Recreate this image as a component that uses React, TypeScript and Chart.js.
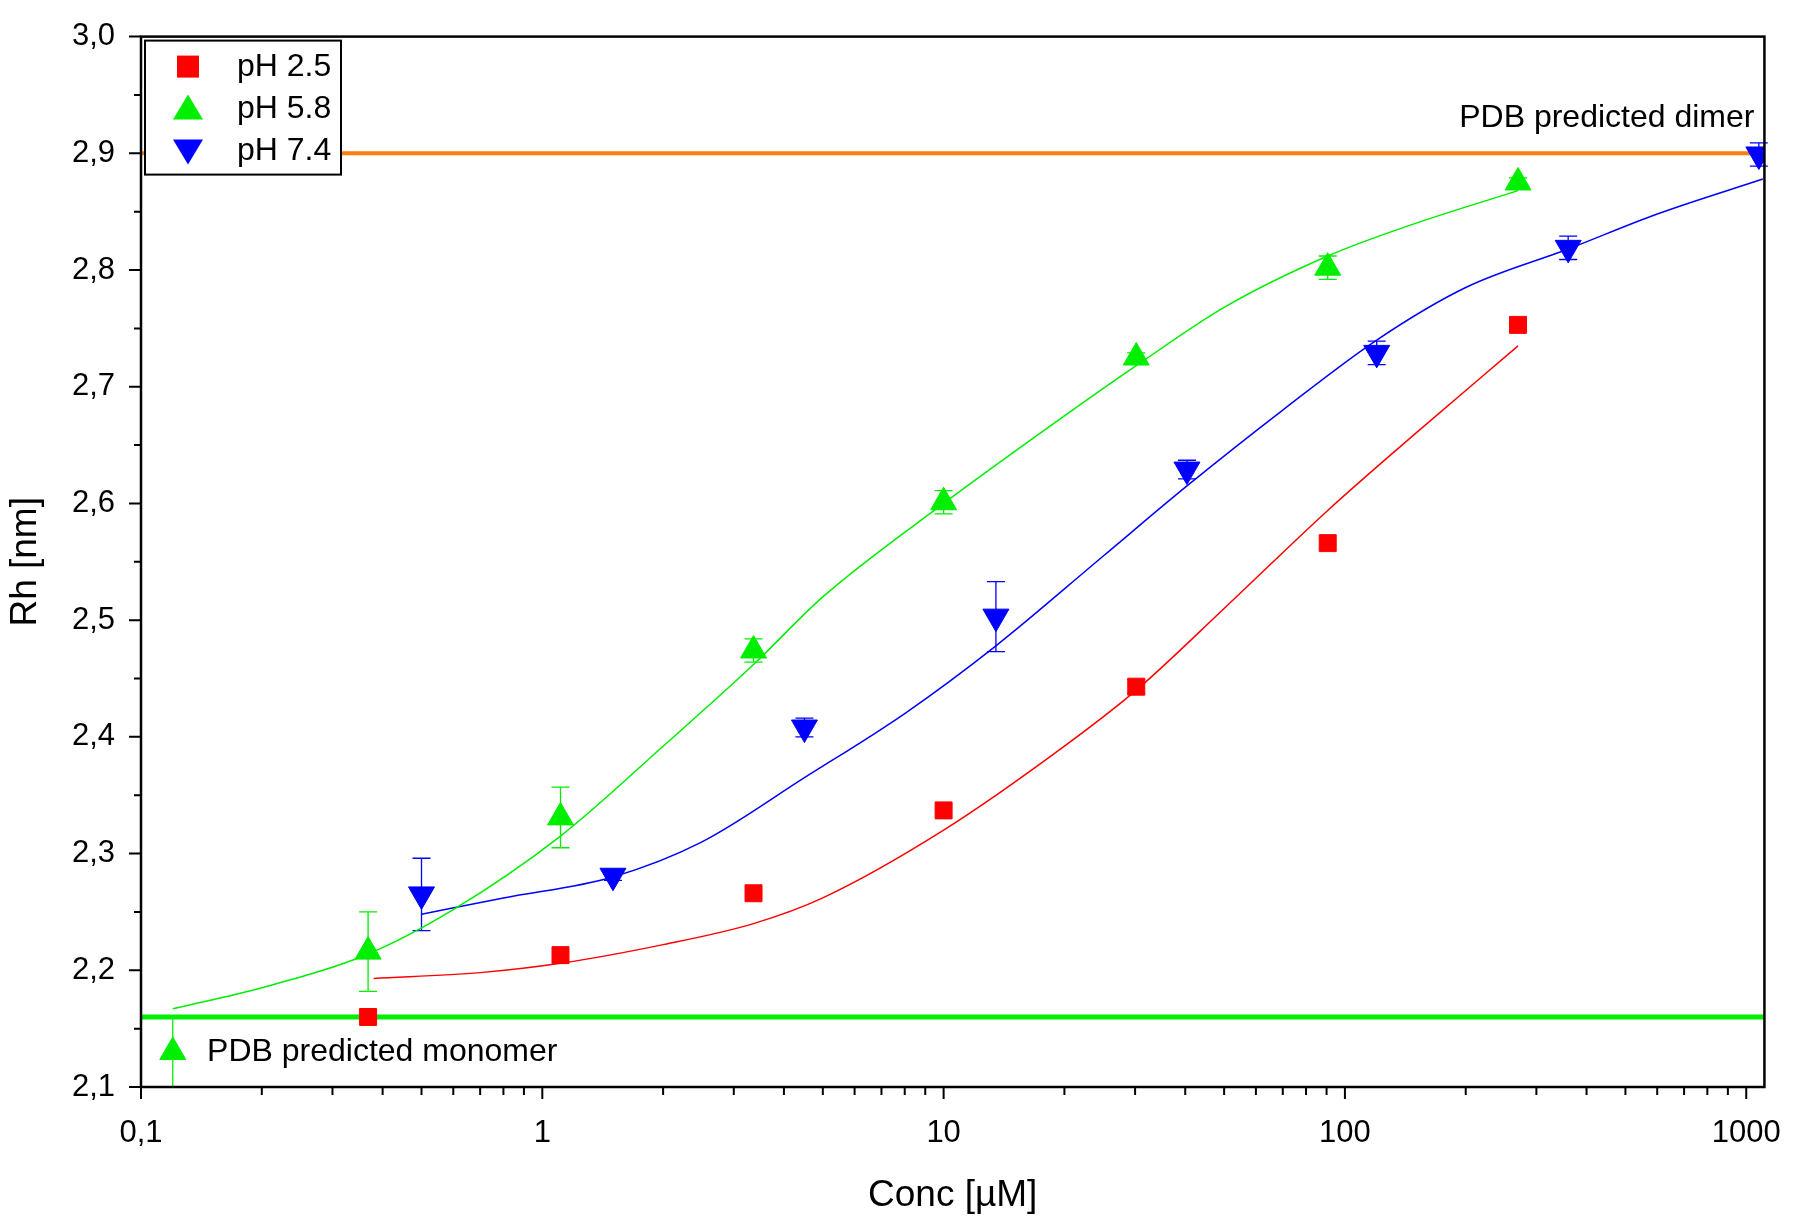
import React, { useEffect, useRef } from "react";
import { Chart, registerables } from "chart.js";

Chart.register(...registerables);

// measured points (Conc µM, Rh nm) with error bars (+/-)
const ph25X = [0.368, 1.11, 3.36, 10, 30.2, 90.6, 270];
const ph25Y = [2.16, 2.213, 2.266, 2.337, 2.443, 2.566, 2.753];
const ph25Err = [0, 0, 0, 0, 0.006, 0, 0];

const ph58X = [0.12, 0.368, 1.11, 3.36, 10, 30.2, 90.6, 270];
const ph58Y = [2.13, 2.216, 2.331, 2.474, 2.601, 2.725, 2.802, 2.875];
const ph58Err = [0.03, 0.034, 0.026, 0.01, 0.01, 0.004, 0.01, 0.004];

const ph74X = [0.5, 1.5, 4.5, 13.5, 40.4, 120, 360, 1075];
const ph74Y = [2.265, 2.281, 2.408, 2.503, 2.629, 2.729, 2.819, 2.899];
const ph74Err = [0.031, 0.004, 0.008, 0.03, 0.008, 0.01, 0.01, 0.01];

// fitted curves
const fit25X = [0.38, 0.7, 1.11, 2, 3.36, 5, 10, 20, 30.2, 50, 90.6, 150, 270];
const fit25Y = [2.193, 2.198, 2.206, 2.222, 2.24, 2.262, 2.32, 2.392, 2.44, 2.51, 2.594, 2.66, 2.735];

const fit58X = [0.12, 0.2, 0.368, 0.6, 1.11, 2, 3.36, 5, 10, 20, 30.2, 50, 90.6, 150, 270];
const fit58Y = [2.167, 2.185, 2.214, 2.252, 2.315, 2.392, 2.462, 2.52, 2.6, 2.675, 2.718, 2.768, 2.812, 2.84, 2.868];

const fit74X = [0.5, 0.8, 1.5, 2.5, 4.5, 8, 13.5, 25, 40.4, 70, 120, 200, 360, 600, 1100];
const fit74Y = [2.248, 2.262, 2.28, 2.31, 2.365, 2.42, 2.478, 2.555, 2.615, 2.68, 2.74, 2.785, 2.818, 2.848, 2.878];

const dimerRh = 2.9;
const monomerRh = 2.16;
const xMin = 0.1;
const xMax = 1110;
const xDecades = [0.1, 1, 10, 100, 1000];

const RED = "#ff0000";
const GREEN = "#00ee00";
const BLUE = "#0000ff";
const FONT = "'Liberation Sans', Arial, sans-serif";

const pts = (xs: number[], ys: number[]) => xs.map((x, i) => ({ x, y: ys[i] }));

const errorBars = [
  { xs: ph25X, ys: ph25Y, err: ph25Err, color: RED },
  { xs: ph58X, ys: ph58Y, err: ph58Err, color: GREEN },
  { xs: ph74X, ys: ph74Y, err: ph74Err, color: BLUE },
];

const framePlugin = {
  id: "frame",
  beforeDatasetsDraw(chart: any) {
    const { ctx, scales } = chart;
    const sx = scales.x;
    const sy = scales.y;
    ctx.save();
    ctx.lineWidth = 1.3;
    errorBars.forEach((s) => {
      ctx.strokeStyle = s.color;
      s.xs.forEach((x, i) => {
        if (!s.err[i]) return;
        const px = sx.getPixelForValue(x);
        const y0 = sy.getPixelForValue(s.ys[i] - s.err[i]);
        const y1 = sy.getPixelForValue(s.ys[i] + s.err[i]);
        ctx.beginPath();
        ctx.moveTo(px, y0);
        ctx.lineTo(px, y1);
        ctx.moveTo(px - 9, y0);
        ctx.lineTo(px + 9, y0);
        ctx.moveTo(px - 9, y1);
        ctx.lineTo(px + 9, y1);
        ctx.stroke();
      });
    });
    ctx.restore();
  },
  afterDraw(chart: any) {
    const { ctx, chartArea: a, scales } = chart;
    const sx = scales.x;
    const sy = scales.y;
    ctx.save();
    ctx.strokeStyle = "#000";
    ctx.lineWidth = 2.5;
    ctx.strokeRect(a.left, a.top, a.right - a.left, a.bottom - a.top);
    ctx.lineWidth = 2;
    ctx.beginPath();
    for (let d = 0.1; d < xMax; d *= 10) {
      for (let m = 1; m <= 9; m++) {
        const v = d * m;
        if (v > xMax) break;
        const px = sx.getPixelForValue(v);
        const len = m === 1 ? 12 : 8;
        ctx.moveTo(px, a.bottom);
        ctx.lineTo(px, a.bottom + len);
      }
    }
    for (let i = 0; i <= 18; i++) {
      const v = 2.1 + i * 0.05;
      const py = sy.getPixelForValue(v);
      const len = i % 2 === 0 ? 12 : 7;
      ctx.moveTo(a.left, py);
      ctx.lineTo(a.left - len, py);
    }
    ctx.stroke();

    // legend box
    const lx = a.left + 4;
    const ly = a.top + 4;
    ctx.fillStyle = "#fff";
    ctx.fillRect(lx, ly, 196, 134);
    ctx.lineWidth = 2;
    ctx.strokeRect(lx, ly, 196, 134);
    ctx.font = `32px ${FONT}`;
    ctx.textBaseline = "middle";
    const rows = [
      { label: "pH 2.5", color: RED, shape: "sq" },
      { label: "pH 5.8", color: GREEN, shape: "up" },
      { label: "pH 7.4", color: BLUE, shape: "down" },
    ];
    rows.forEach((r, i) => {
      const cy = ly + 26 + i * 42;
      const cx = lx + 43;
      ctx.fillStyle = r.color;
      ctx.beginPath();
      if (r.shape === "sq") {
        ctx.rect(cx - 11, cy - 11, 22, 22);
      } else if (r.shape === "up") {
        ctx.moveTo(cx, cy - 14);
        ctx.lineTo(cx + 15, cy + 11);
        ctx.lineTo(cx - 15, cy + 11);
      } else {
        ctx.moveTo(cx, cy + 14);
        ctx.lineTo(cx + 15, cy - 11);
        ctx.lineTo(cx - 15, cy - 11);
      }
      ctx.fill();
      ctx.fillStyle = "#000";
      ctx.fillText(r.label, lx + 92, cy + 1);
    });

    ctx.fillStyle = "#000";
    ctx.textAlign = "right";
    ctx.fillText("PDB predicted dimer", a.right - 10, sy.getPixelForValue(2.93));
    ctx.textAlign = "left";
    ctx.fillText("PDB predicted monomer", sx.getPixelForValue(0.123) + 30, sy.getPixelForValue(2.13));
    ctx.restore();
  },
};

const App: React.FC = () => {
  const chartRef = useRef<HTMLCanvasElement>(null);
  const chartInstance = useRef<Chart | null>(null);

  useEffect(() => {
    document.body.style.margin = "0";
    if (!chartRef.current) return;
    const ctx = chartRef.current.getContext("2d");
    if (!ctx) return;
    if (chartInstance.current) chartInstance.current.destroy();

    const fitLine = (xs: number[], ys: number[], color: string) => ({
      data: pts(xs, ys),
      showLine: true,
      borderColor: color,
      borderWidth: 1.5,
      pointRadius: 0,
      cubicInterpolationMode: "monotone",
      order: 3,
    });
    const refLine = (y: number, color: string, w: number) => ({
      data: [
        { x: xMin, y },
        { x: xMax, y },
      ],
      showLine: true,
      borderColor: color,
      borderWidth: w,
      pointRadius: 0,
      order: 4,
    });

    chartInstance.current = new Chart(ctx, {
      type: "scatter",
      data: {
        datasets: [
          {
            label: "pH 2.5",
            data: pts(ph25X, ph25Y),
            pointStyle: "rect",
            pointRadius: 12,
            backgroundColor: RED,
            borderColor: RED,
            order: 1,
          },
          {
            label: "pH 5.8",
            data: pts(ph58X, ph58Y),
            pointStyle: "triangle",
            pointRadius: 15,
            backgroundColor: GREEN,
            borderColor: GREEN,
            order: 1,
          },
          {
            label: "pH 7.4",
            data: pts(ph74X, ph74Y),
            pointStyle: "triangle",
            pointRotation: 180,
            pointRadius: 15,
            backgroundColor: BLUE,
            borderColor: BLUE,
            order: 1,
          },
          fitLine(fit25X, fit25Y, RED),
          fitLine(fit58X, fit58Y, GREEN),
          fitLine(fit74X, fit74Y, BLUE),
          refLine(dimerRh, "#ff7f0e", 4),
          refLine(monomerRh, "#00ee00", 5),
        ] as any,
      },
      options: {
        animation: false,
        responsive: false,
        layout: { padding: { left: 0, right: 25, top: 8, bottom: 0 } },
        plugins: { legend: { display: false }, tooltip: { enabled: false } },
        scales: {
          x: {
            type: "logarithmic",
            min: xMin,
            max: xMax,
            afterBuildTicks: (axis: any) => {
              axis.ticks = xDecades.map((v) => ({ value: v }));
            },
            afterFit: (axis: any) => {
              axis.height = 135;
            },
            grid: { display: false },
            border: { display: false },
            ticks: {
              padding: 20,
              color: "#000",
              font: { family: FONT, size: 31 },
              maxRotation: 0,
              callback: (v: any) => String(v).replace(".", ","),
            },
            title: {
              display: true,
              text: "Conc [µM]",
              color: "#000",
              font: { family: FONT, size: 37 },
              padding: { top: 10 },
            },
          },
          y: {
            min: 2.1,
            max: 3.0,
            afterFit: (axis: any) => {
              axis.width = 141;
            },
            grid: { display: false },
            border: { display: false },
            ticks: {
              stepSize: 0.1,
              padding: 18,
              color: "#000",
              font: { family: FONT, size: 31 },
              callback: (v: any) => Number(v).toFixed(1).replace(".", ","),
            },
            title: {
              display: true,
              text: "Rh [nm]",
              color: "#000",
              font: { family: FONT, size: 37 },
              padding: { bottom: 4 },
            },
          },
        },
      },
      plugins: [framePlugin],
    });

    return () => {
      if (chartInstance.current) {
        chartInstance.current.destroy();
        chartInstance.current = null;
      }
    };
  }, []);

  return <canvas ref={chartRef} width={1801} height={1222} style={{ display: "block" }} />;
};

export default App;
